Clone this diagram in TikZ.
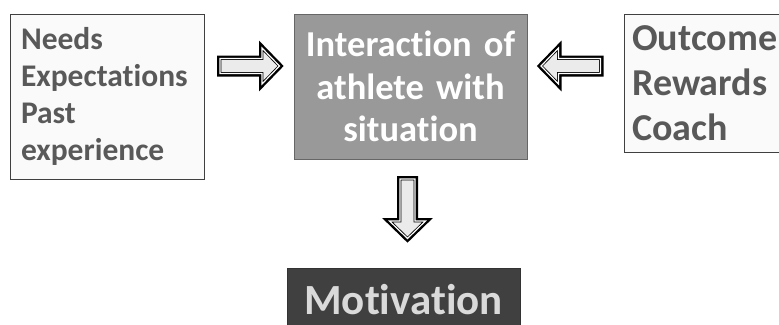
\documentclass[tikz,border=0pt]{standalone}
\usepackage{fontspec}
\setmainfont{Carlito}[Ligatures=NoCommon]
\usepackage{tikz}
\definecolor{boxtext}{HTML}{595959}
\definecolor{midgray}{HTML}{999999}
\definecolor{darkbox}{HTML}{404040}
\definecolor{lighttext}{HTML}{DADADA}

\begin{document}
\begin{tikzpicture}[x=1pt,y=-1pt,
    sidebox/.style={draw=black!75,fill=black!2,line width=0.6pt,inner xsep=0pt,inner ysep=0pt,align=left,text=boxtext},
    arrowfill/.style={fill=black!8,draw=black,line width=0.8pt,double=white,double distance=1.2pt},
    pics/blockarrow/.style={code={
        \draw[line width=6pt] (-30,-7.5)--(12,-7.5)--(12,-18)--(29.5,0)--(12,18)--(12,7.5)--(-30,7.5)--cycle;
        \draw[arrowfill] (-30,-7.5)--(12,-7.5)--(12,-18)--(29.5,0)--(12,18)--(12,7.5)--(-30,7.5)--cycle;
    }}]
    \clip (0,0) rectangle (779,324);
    \fill[white] (0,0) rectangle (779,324);
    \node[sidebox,minimum width=194pt,minimum height=165pt,text width=172pt,font=\bfseries\fontsize{31.5}{37}\selectfont] (needs) at (107,96.5)
        {Needs\\Expectations\\Past\\experience};
    \node[draw=black!60,fill=midgray,line width=0.6pt,minimum width=233pt,minimum height=145pt,text width=225pt,inner sep=0pt,align=center,text=white,font=\bfseries\fontsize{36.5}{42.5}\selectfont] (inter) at (410.5,86.5)
        {Interaction of\\athlete with\\situation};
    \node[sidebox,anchor=north west,minimum width=200pt,minimum height=138pt,text width=184pt,font=\bfseries\fontsize{38}{45}\selectfont] (outcome) at (624,14)
        {Outcome\\Rewards\\Coach};
    \node[draw=black!80,fill=darkbox,line width=0.6pt,minimum width=233pt,minimum height=63pt,inner sep=0pt,text=lighttext,font=\bfseries\fontsize{43}{50}\selectfont] (motiv) at (403.5,299.5) {Motivation};
    \pic (toinside) at (250,66) {blockarrow};
    \pic[rotate=180] (fromoutside) at (570.5,66) {blockarrow};
    \pic[rotate=-90] (tomotiv) at (407.5,209) {blockarrow};
\end{tikzpicture}
\end{document}
